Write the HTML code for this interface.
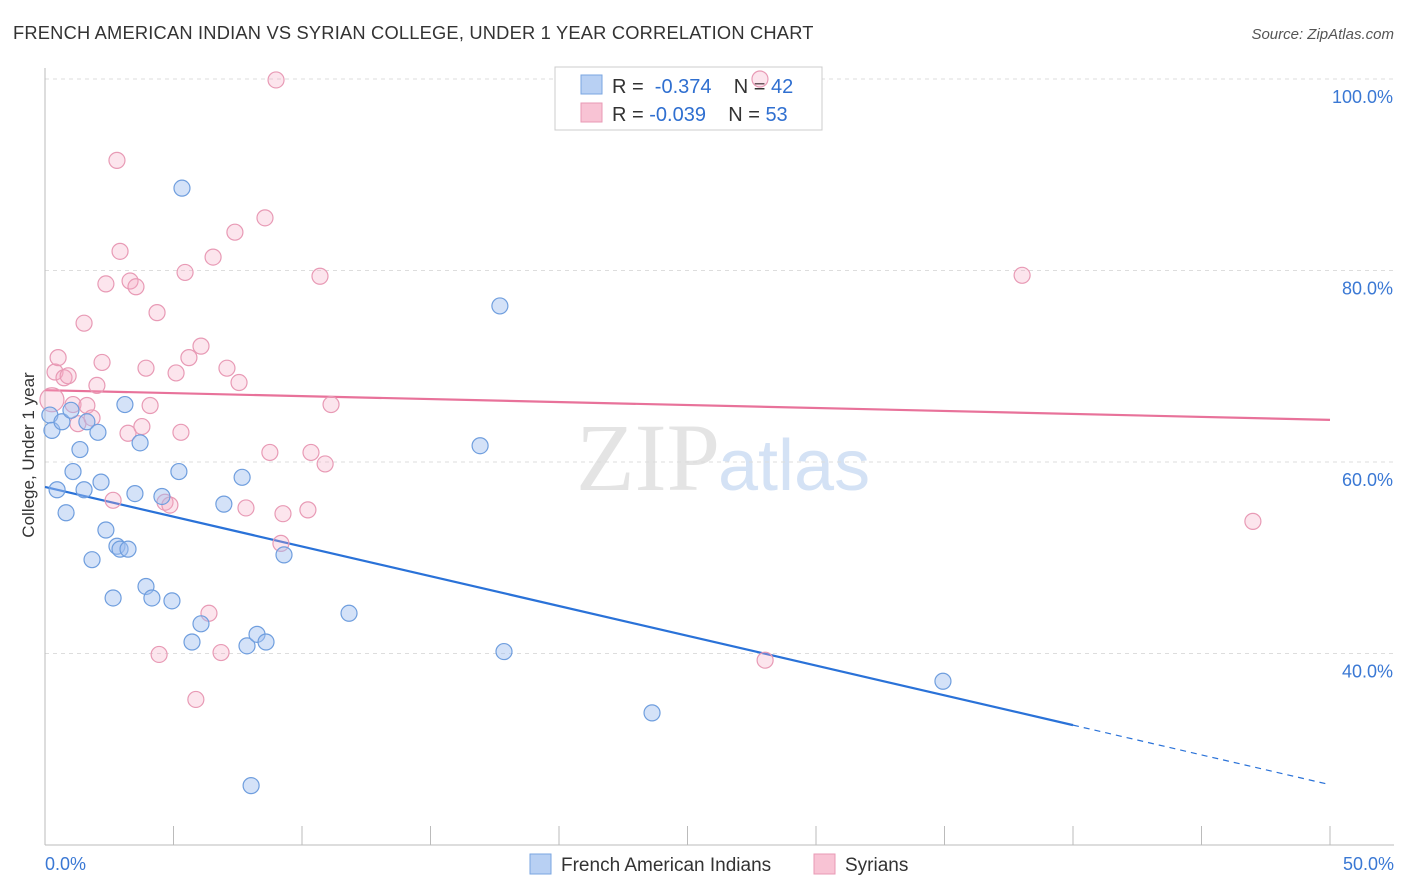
<!DOCTYPE html>
<html><head><meta charset="utf-8">
<style>
body{margin:0;background:#fff;font-family:"Liberation Sans",sans-serif;}
svg{display:block}
</style></head>
<body>
<svg id="chart" width="1406" height="892">
<text x="13" y="39" font-size="18.3" letter-spacing="0.2" fill="#333">FRENCH AMERICAN INDIAN VS SYRIAN COLLEGE, UNDER 1 YEAR CORRELATION CHART</text>
<text x="1394" y="39" font-size="15" fill="#555" text-anchor="end" font-style="italic">Source: ZipAtlas.com</text>
<text x="720" y="490" font-size="96" fill="#e4e4e4" text-anchor="end" font-family="Liberation Serif">ZIP</text>
<text x="718" y="490" font-size="72" fill="#d4e2f5">atlas</text>
<text transform="translate(34,455) rotate(-90)" font-size="17" fill="#333" text-anchor="middle">College, Under 1 year</text>
<g id="grid"></g><g id="axes"></g>
<g>
<rect x="555" y="67" width="267" height="63" fill="#fff" stroke="#ccc"/>
<rect x="581" y="75" width="21" height="19" fill="#b8d0f3" stroke="#7aa6e0"/>
<rect x="581" y="103" width="21" height="19" fill="#f8c3d4" stroke="#e89ab5"/>
<text x="612" y="93" font-size="20" fill="#333">R = <tspan fill="#2f6fd0">&#160;-0.374</tspan>&#160;&#160;&#160; N = <tspan fill="#2f6fd0">42</tspan></text>
<text x="612" y="121" font-size="20" fill="#333">R = <tspan fill="#2f6fd0">-0.039</tspan>&#160;&#160;&#160; N = <tspan fill="#2f6fd0">53</tspan></text>
</g>
<g id="lines"></g><g id="pts"></g>
<g>
<rect x="530" y="854" width="21" height="20" fill="#b8d0f3" stroke="#7aa6e0"/>
<text x="561" y="871" font-size="19" fill="#333">French American Indians</text>
<rect x="814" y="854" width="21" height="20" fill="#f8c3d4" stroke="#e89ab5"/>
<text x="845" y="871" font-size="19" fill="#333">Syrians</text>
</g>
</svg>
<script>
const blueX=[0.19,0.27,0.66,1.01,0.47,0.82,1.09,1.36,1.52,1.63,1.83,2.06,2.18,2.37,2.65,2.80,2.92,3.23,3.11,3.50,3.70,3.93,4.16,4.55,4.94,5.21,5.33,5.72,6.07,6.96,7.67,7.86,8.25,8.60,8.02,9.30,11.83,16.93,17.70,17.86,23.62,34.94];
const blueY=[64.9,63.3,64.2,65.4,57.1,54.7,59.0,61.3,57.1,64.2,49.8,63.1,57.9,52.9,45.8,51.2,50.9,50.9,66.0,56.7,62.0,47.0,45.8,56.4,45.5,59.0,88.6,41.2,43.1,55.6,58.4,40.8,42.0,41.2,26.2,50.3,44.2,61.7,76.3,40.2,33.8,37.1];
const pinkX=[0.27,0.39,0.51,0.74,0.90,1.09,1.28,1.52,1.63,1.83,2.02,2.22,2.37,2.65,2.80,2.92,3.23,3.31,3.54,3.77,3.93,4.09,4.36,4.44,4.67,4.86,5.10,5.29,5.45,5.60,5.87,6.07,6.38,6.54,6.85,7.08,7.39,7.55,7.82,8.56,8.75,8.99,9.18,9.26,10.35,10.23,10.70,10.90,11.13,27.82,28.02,38.02,47.0];
const pinkY=[66.5,69.4,70.9,68.8,69.0,66.0,64.0,74.5,65.9,64.6,68.0,70.4,78.6,56.0,91.5,82.0,63.0,78.9,78.3,63.7,69.8,65.9,75.6,39.9,55.8,55.5,69.3,63.1,79.8,70.9,35.2,72.1,44.2,81.4,40.1,69.8,84.0,68.3,55.2,85.5,61.0,99.9,51.5,54.6,61.0,55.0,79.4,59.8,66.0,100.0,39.3,79.5,53.8];
const trendBlue=[57.4,26.3];
const trendPink=[67.5,64.4];
const yTicks=[100,80,60,40];
const yTickLabels=["100.0%","80.0%","60.0%","40.0%"];
const xTicks=[0,5,10,15,20,25,30,35,40,45,50];
const NS="http://www.w3.org/2000/svg";
const sx=v=>45+v/50*1285, sy=v=>79+(100-v)*9.575;
function mk(tag,attrs,parent){const e=document.createElementNS(NS,tag);for(const k in attrs)e.setAttribute(k,attrs[k]);document.getElementById(parent).appendChild(e);return e;}
yTicks.forEach((t,i)=>{
 const l=mk('line',{x1:45,x2:1394,y1:sy(t),y2:sy(t),stroke:'#ddd','stroke-dasharray':'4,4'},'grid');
 
 
 const tx=mk('text',{x:1393,y:sy(t)+24,'font-size':18,fill:'#3a78d4','text-anchor':'end'},'axes');
 tx.textContent=yTickLabels[i];
 
 
});
const ya=mk('line',{x1:45,x2:45,y1:68,y2:845,stroke:'#bbb'},'axes');


const xa=mk('line',{x1:45,x2:1394,y1:845,y2:845,stroke:'#bbb'},'axes');


xTicks.forEach(t=>{const l=mk('line',{x1:sx(t),x2:sx(t),y1:826,y2:845,stroke:'#bbb'},'axes');
 
 });
[[0,"0.0%",'start',45],[50,"50.0%",'end',1394]].forEach(a=>{const t=mk('text',{x:a[3],y:870,'font-size':18,fill:'#3a78d4','text-anchor':a[2]},'axes');t.textContent=a[1];
 
 });
function drawPts(xs,ys,fill,stroke,name){xs.forEach((x,i)=>{const c=mk('circle',{cx:sx(x),cy:sy(ys[i]),r:(name==='syrian-point'&&i===0)?12:8,fill:fill,stroke:stroke,'stroke-width':1.2},'pts');
 
 });}
drawPts(pinkX,pinkY,'rgba(245,170,195,0.3)','#e89ab5','syrian-point');
drawPts(blueX,blueY,'rgba(160,190,240,0.45)','#6f9ede','french-american-indian-point');
const bAt=x=>trendBlue[0]+(trendBlue[1]-trendBlue[0])*x/50;
const b1=mk('line',{x1:sx(0),y1:sy(bAt(0)),x2:sx(40),y2:sy(bAt(40)),stroke:'#2a72d8','stroke-width':2.2},'lines');


const b2=mk('line',{x1:sx(40),y1:sy(bAt(40)),x2:sx(50),y2:sy(bAt(50)),stroke:'#2a72d8','stroke-width':1.2,'stroke-dasharray':'6,5'},'lines');


const p1=mk('line',{x1:sx(0),y1:sy(trendPink[0]),x2:sx(50),y2:sy(trendPink[1]),stroke:'#e8729a','stroke-width':2.2},'lines');


</script>
</body></html>
